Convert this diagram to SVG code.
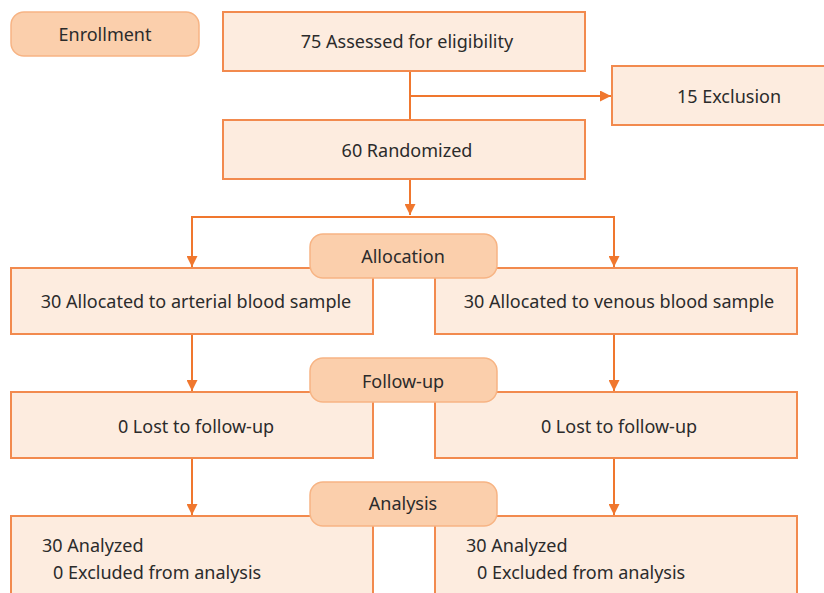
<svg xmlns="http://www.w3.org/2000/svg" width="824" height="593" viewBox="0 0 824 593">
<defs>
<style>
.box{fill:#FDECDF;stroke:#F28A4E;stroke-width:2}
.pill{fill:#FBCFAC;stroke:#F7B484;stroke-width:1.5}
.t{font-family:"Noto Sans","Open Sans",sans-serif;font-size:18px;fill:#2b2b2b}
.c{text-anchor:middle}
.ln{fill:none;stroke:#F0772E;stroke-width:2}
</style>
<marker id="ah" viewBox="0 0 10 10" refX="10" refY="5" markerWidth="11" markerHeight="11" markerUnits="userSpaceOnUse" orient="auto">
<path d="M0,0 L10,5 L0,10 Z" fill="#F0772E"/>
</marker>
</defs>
<rect width="824" height="593" fill="#fff"/>
<g id="connectors">
<path class="ln" d="M410,71 V120"/>
<path class="ln" d="M410,96 H611" marker-end="url(#ah)"/>
<path class="ln" d="M410,179 V215" marker-end="url(#ah)"/>
<path class="ln" d="M192,267 V217 H614 V267" marker-end="url(#ah)"/>
<path class="ln" d="M192,217 V267" marker-end="url(#ah)"/>
<path class="ln" d="M192,334 V391" marker-end="url(#ah)"/>
<path class="ln" d="M614,334 V391" marker-end="url(#ah)"/>
<path class="ln" d="M192,458 V515" marker-end="url(#ah)"/>
<path class="ln" d="M614,458 V515" marker-end="url(#ah)"/>
</g>
<g id="enrollment">
<rect class="pill" x="11" y="12" width="188" height="44" rx="13"/>
<text class="t c" x="105" y="41">Enrollment</text>
</g>
<g id="assessed">
<rect class="box" x="223" y="12" width="362" height="59"/>
<text class="t c" x="407" y="48">75 Assessed for eligibility</text>
</g>
<g id="exclusion">
<rect class="box" x="612" y="66" width="214" height="59"/>
<text class="t c" x="729" y="103">15 Exclusion</text>
</g>
<g id="randomized">
<rect class="box" x="223" y="120" width="362" height="59"/>
<text class="t c" x="407" y="157">60 Randomized</text>
</g>
<g id="alloc-arterial">
<rect class="box" x="11" y="268" width="362" height="66"/>
<text class="t c" x="196" y="308">30 Allocated to arterial blood sample</text>
</g>
<g id="alloc-venous">
<rect class="box" x="435" y="268" width="362" height="66"/>
<text class="t c" x="619" y="308">30 Allocated to venous blood sample</text>
</g>
<g id="allocation">
<rect class="pill" x="310" y="234" width="187" height="44" rx="13"/>
<text class="t c" x="403" y="263">Allocation</text>
</g>
<g id="lost-arterial">
<rect class="box" x="11" y="392" width="362" height="66"/>
<text class="t c" x="196" y="433">0 Lost to follow-up</text>
</g>
<g id="lost-venous">
<rect class="box" x="435" y="392" width="362" height="66"/>
<text class="t c" x="619" y="433">0 Lost to follow-up</text>
</g>
<g id="followup">
<rect class="pill" x="310" y="358" width="187" height="44" rx="13"/>
<text class="t c" x="403" y="388">Follow-up</text>
</g>
<g id="analyzed-arterial">
<rect class="box" x="11" y="516" width="362" height="90"/>
<text class="t" x="42" y="552">30 Analyzed</text>
<text class="t" x="53" y="579">0 Excluded from analysis</text>
</g>
<g id="analyzed-venous">
<rect class="box" x="435" y="516" width="362" height="90"/>
<text class="t" x="466" y="552">30 Analyzed</text>
<text class="t" x="477" y="579">0 Excluded from analysis</text>
</g>
<g id="analysis">
<rect class="pill" x="310" y="482" width="187" height="44" rx="13"/>
<text class="t c" x="403" y="510">Analysis</text>
</g>
</svg>
